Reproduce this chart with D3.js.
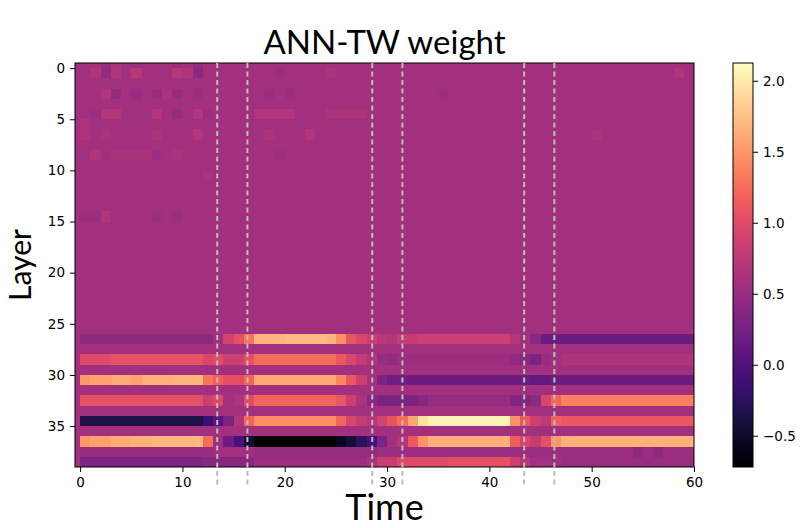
<!DOCTYPE html>
<html>
<head>
<meta charset="utf-8">
<script src="https://cdn.jsdelivr.net/npm/d3@7"></script>
<style>
	body { margin: 0; background: #fff; }
	.tick text { font-family: "DejaVu Sans", sans-serif; font-size: 13.5px; fill: #000; }
	.tick line, .domain { stroke: #000; }
	.label { font-family: Lato, "Open Sans", sans-serif; fill: #000; }
</style>
</head>
<body>
<svg id="chart" width="802" height="528"></svg>
<script>
// cells: layer band [k, k+1], time cell [t, t+1]; k = -1 / t = -1 are the half cells at the edge
const layerCells = d3.range(-1, 39);
const timeCells = d3.range(-1, 60);
const baseWeight = 0.58;

// [layer, fromTime, toTime, weight]
const bandRuns = [
	[26, 0, 13, 0.42], [26, 13, 14, 0.55], [26, 14, 15, 0.92], [26, 15, 16, 1.05], [26, 16, 17, 1.3],
	[26, 17, 20, 1.68], [26, 20, 24, 1.72], [26, 24, 25, 1.68], [26, 25, 26, 1.45], [26, 26, 27, 1.1],
	[26, 27, 28, 0.95], [26, 28, 29, 0.85], [26, 29, 30, 0.72], [26, 30, 31, 0.68], [26, 31, 33, 0.82],
	[26, 33, 42, 0.86], [26, 42, 43, 0.72], [26, 43, 44, 0.58], [26, 44, 45, 0.4], [26, 45, 60, 0.17],

	[28, 0, 3, 1.0], [28, 3, 12, 1.06], [28, 12, 13, 0.95], [28, 13, 14, 1.02], [28, 14, 16, 0.85],
	[28, 16, 17, 1.05], [28, 17, 25, 1.25], [28, 25, 26, 1.1], [28, 26, 27, 0.95], [28, 27, 28, 0.8],
	[28, 28, 29, 0.68], [28, 29, 30, 0.5], [28, 30, 31, 0.45], [28, 31, 42, 0.52], [28, 42, 43, 0.45],
	[28, 43, 44, 0.4], [28, 44, 45, 0.3], [28, 45, 46, 0.5], [28, 46, 47, 0.58], [28, 47, 60, 0.65],

	[30, 0, 1, 1.5], [30, 1, 3, 1.56], [30, 3, 5, 1.63], [30, 5, 6, 1.56], [30, 6, 9, 1.65],
	[30, 9, 12, 1.68], [30, 12, 13, 1.3], [30, 13, 14, 1.18], [30, 14, 16, 1.03], [30, 16, 17, 1.2],
	[30, 17, 25, 1.6], [30, 25, 26, 1.4], [30, 26, 27, 1.1], [30, 27, 28, 0.85], [30, 28, 29, 0.6],
	[30, 29, 30, 0.32], [30, 30, 32, 0.22], [30, 32, 44, 0.18], [30, 44, 46, 0.12], [30, 46, 60, 0.18],

	[32, 0, 12, 1.05], [32, 12, 13, 0.85], [32, 13, 14, 0.97], [32, 14, 15, 0.58], [32, 15, 16, 0.65],
	[32, 16, 17, 1.0], [32, 17, 25, 1.2], [32, 25, 26, 1.1], [32, 26, 27, 0.85], [32, 27, 28, 0.62],
	[32, 28, 29, 0.4], [32, 29, 33, 0.3], [32, 33, 34, 0.38], [32, 34, 42, 0.47], [32, 42, 44, 0.36],
	[32, 44, 45, 0.42], [32, 45, 46, 0.95], [32, 46, 47, 1.2], [32, 47, 60, 1.38],

	[34, 0, 12, -0.36], [34, 12, 13, -0.15], [34, 13, 14, 0.05], [34, 14, 15, 0.3], [34, 15, 16, 0.65],
	[34, 16, 17, 1.2], [34, 17, 25, 1.45], [34, 25, 26, 1.2], [34, 26, 27, 0.95], [34, 27, 28, 0.8],
	[34, 28, 29, 0.7], [34, 29, 30, 0.9], [34, 30, 31, 1.08], [34, 31, 32, 1.25], [34, 32, 33, 1.6],
	[34, 33, 34, 1.95], [34, 34, 42, 2.06], [34, 42, 43, 1.48], [34, 43, 44, 1.12], [34, 44, 45, 0.85],
	[34, 45, 46, 0.75], [34, 46, 47, 1.18], [34, 47, 60, 1.1],

	[36, 0, 1, 1.5], [36, 1, 3, 1.56], [36, 3, 5, 1.63], [36, 5, 7, 1.66], [36, 7, 12, 1.7],
	[36, 12, 13, 1.25], [36, 13, 14, 0.55], [36, 14, 15, 0.2], [36, 15, 16, -0.05], [36, 16, 17, -0.45],
	[36, 17, 25, -0.7], [36, 25, 26, -0.55], [36, 26, 27, -0.42], [36, 27, 28, -0.25], [36, 28, 29, -0.05],
	[36, 29, 30, 0.3], [36, 30, 31, 0.58], [36, 31, 32, 0.7], [36, 32, 33, 1.12], [36, 33, 34, 1.48],
	[36, 34, 42, 1.65], [36, 42, 43, 1.15], [36, 43, 44, 0.93], [36, 44, 45, 0.82], [36, 45, 46, 1.05],
	[36, 46, 47, 1.5], [36, 47, 60, 1.66],

	[37, 0, 13, 0.5], [37, 17, 29, 0.47], [37, 29, 60, 0.52],

	[38, 0, 12, 0.32], [38, 12, 17, 0.4], [38, 17, 28, 0.52], [38, 28, 29, 0.62], [38, 29, 31, 0.83],
	[38, 31, 36, 1.0], [38, 36, 42, 1.05], [38, 42, 43, 0.85], [38, 43, 44, 0.7], [38, 44, 47, 0.58],
	[38, 47, 60, 0.5],
];

// [layer, time, weight] single cells in the mottled upper layers
const speckles = [
	[-1, 2, 0.5], [-1, 3, 0.62], [-1, 5, 0.52], [-1, 9, 0.52], [-1, 11, 0.48],
	[0, 1, 0.68], [0, 2, 0.45], [0, 3, 0.66], [0, 5, 0.72], [0, 9, 0.72], [0, 10, 0.66], [0, 11, 0.42],
	[0, 19, 0.53], [0, 24, 0.62], [0, 58, 0.66],
	[2, 2, 0.66], [2, 3, 0.47], [2, 5, 0.5], [2, 7, 0.5], [2, 8, 0.62], [2, 9, 0.49], [2, 11, 0.53],
	[2, 18, 0.53], [2, 20, 0.53], [2, 35, 0.53], [2, 40, 0.55],
	[4, 1, 0.53], [4, 2, 0.69], [4, 3, 0.66], [4, 4, 0.56], [4, 5, 0.56], [4, 6, 0.56], [4, 7, 0.67],
	[4, 9, 0.47], [4, 11, 0.66], [4, 12, 0.53], [4, 17, 0.67], [4, 18, 0.68], [4, 19, 0.68], [4, 20, 0.67],
	[4, 24, 0.64], [4, 25, 0.64], [4, 26, 0.64], [4, 27, 0.64],
	[5, 0, 0.64],
	[6, 0, 0.64], [6, 2, 0.62], [6, 7, 0.63], [6, 11, 0.69], [6, 18, 0.64], [6, 22, 0.67], [6, 50, 0.62],
	[8, 1, 0.67], [8, 3, 0.62], [8, 4, 0.62], [8, 5, 0.62], [8, 6, 0.62], [8, 7, 0.53], [8, 9, 0.63], [8, 19, 0.53],
	[10, 12, 0.63], [10, 18, 0.55],
	[14, 0, 0.53], [14, 1, 0.53], [14, 2, 0.67], [14, 7, 0.53], [14, 9, 0.53],
	[37, 54, 0.42], [37, 56, 0.42],
];

const boundaries = [13.4, 16.35, 28.55, 31.5, 43.4, 46.35];
const xTicks = [0, 10, 20, 30, 40, 50, 60];
const yTicks = [0, 5, 10, 15, 20, 25, 30, 35];
const colorTicks = [-0.5, 0, 0.5, 1, 1.5, 2];
const weightRange = [-0.72, 2.125];

const svg = d3.select("#chart");
const plotLeft = 75, plotRight = 694, plotTop = 63, plotBottom = 467;

const x = d3.scaleLinear().domain([-0.5, 60]).range([plotLeft, plotRight]);
const y = d3.scaleLinear().domain([-0.5, 39]).range([plotTop, plotBottom]);
const color = d3.scaleSequential(d3.interpolateMagma).domain(weightRange);

const weights = layerCells.map(() => timeCells.map(() => baseWeight));
bandRuns.forEach(([k, t0, t1, w]) => {
	for (let t = t0; t < t1; t++) weights[k + 1][t + 1] = w;
});
speckles.forEach(([k, t, w]) => {
	weights[k + 1][t + 1] = w;
});

const cells = layerCells.flatMap((k, i) =>
	timeCells.map((t, j) => ({ k, t, w: weights[i][j] }))
);

svg.append("g")
	.attr("shape-rendering", "crispEdges")
	.selectAll("rect")
	.data(cells)
	.join("rect")
	.attr("x", (d) => x(Math.max(d.t, -0.5)))
	.attr("y", (d) => y(Math.max(d.k, -0.5)))
	.attr("width", (d) => x(d.t + 1) - x(Math.max(d.t, -0.5)) + 0.3)
	.attr("height", (d) => y(d.k + 1) - y(Math.max(d.k, -0.5)) + 0.3)
	.attr("fill", (d) => color(d.w));

// frame
svg.append("rect")
	.attr("x", plotLeft)
	.attr("y", plotTop)
	.attr("width", plotRight - plotLeft)
	.attr("height", plotBottom - plotTop)
	.attr("fill", "none")
	.attr("stroke", "#000")
	.attr("stroke-width", 1);

svg.append("g")
	.attr("transform", `translate(0,${plotBottom})`)
	.call(d3.axisBottom(x).tickValues(xTicks).tickSize(5).tickPadding(5).tickFormat(d3.format("d")))
	.call((g) => g.select(".domain").remove());

svg.append("g")
	.attr("transform", `translate(${plotLeft},0)`)
	.call(d3.axisLeft(y).tickValues(yTicks).tickSize(5).tickPadding(5).tickFormat(d3.format("d")))
	.call((g) => g.select(".domain").remove());

// segment boundaries, drawn a little past the bottom of the axes
svg.append("g")
	.selectAll("line")
	.data(boundaries)
	.join("line")
	.attr("x1", (d) => x(d))
	.attr("x2", (d) => x(d))
	.attr("y1", plotTop)
	.attr("y2", plotBottom + (plotBottom - plotTop) * 0.05)
	.attr("stroke", "#bdbdbd")
	.attr("stroke-width", 2)
	.attr("stroke-dasharray", "5,3.5");

// colorbar
const cbLeft = 733, cbWidth = 20;
const cbScale = d3.scaleLinear().domain(weightRange).range([plotBottom, plotTop]);

const grad = svg.append("defs")
	.append("linearGradient")
	.attr("id", "magma")
	.attr("x1", 0).attr("y1", 1)
	.attr("x2", 0).attr("y2", 0);
grad.selectAll("stop")
	.data(d3.range(0, 1.0001, 0.02))
	.join("stop")
	.attr("offset", (d) => d)
	.attr("stop-color", (d) => d3.interpolateMagma(d));

svg.append("rect")
	.attr("x", cbLeft)
	.attr("y", plotTop)
	.attr("width", cbWidth)
	.attr("height", plotBottom - plotTop)
	.attr("fill", "url(#magma)")
	.attr("stroke", "#000")
	.attr("stroke-width", 1);

svg.append("g")
	.attr("transform", `translate(${cbLeft + cbWidth},0)`)
	.call(d3.axisRight(cbScale).tickValues(colorTicks).tickSize(5).tickPadding(5).tickFormat(d3.format(".1f")))
	.call((g) => g.select(".domain").remove());

// labels
svg.append("text")
	.attr("class", "label")
	.attr("x", (plotLeft + plotRight) / 2)
	.attr("y", 54)
	.attr("text-anchor", "middle")
	.attr("font-size", 33)
	.text("ANN-TW weight");

svg.append("text")
	.attr("class", "label")
	.attr("x", (plotLeft + plotRight) / 2)
	.attr("y", 520)
	.attr("text-anchor", "middle")
	.attr("font-size", 36)
	.text("Time");

svg.append("text")
	.attr("class", "label")
	.attr("transform", `translate(31,${(plotTop + plotBottom) / 2}) rotate(-90)`)
	.attr("text-anchor", "middle")
	.attr("font-size", 30)
	.text("Layer");
</script>
</body>
</html>
